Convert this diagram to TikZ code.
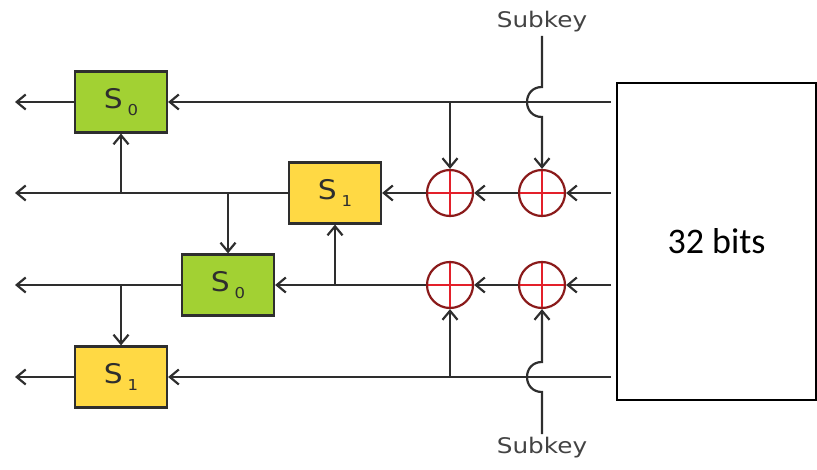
\documentclass[tikz,border=0pt]{standalone}
\usepackage{fontspec}
\usepackage{tikz}
\usetikzlibrary{arrows.meta,positioning,calc}
\newfontfamily\vfont{DejaVu Sans}
\newfontfamily\cfont{Carlito}
\definecolor{ink}{HTML}{2E2E2E}
\definecolor{sgreen}{HTML}{A2D133}
\definecolor{syellow}{HTML}{FFD944}
\definecolor{xring}{HTML}{8A1A1A}
\definecolor{xred}{HTML}{E3202A}
\newcommand{\slab}[1]{\scalebox{1.1}[1]{\fontsize{27}{27}\selectfont S\,\raisebox{-7pt}{\fontsize{15}{15}\selectfont #1}}}
\newcommand{\keylab}{\scalebox{1.15}[1]{\fontsize{21.5}{21.5}\selectfont Subkey}}

\begin{document}
\begin{tikzpicture}[
  x=1pt, y=-1pt,
  every node/.style={align=center},
  sgrn/.style={draw=ink, line width=2.2pt, fill=sgreen, minimum width=92pt,
               minimum height=61pt, inner sep=0pt, font=\vfont, text=ink},
  sylw/.style={sgrn, fill=syellow},
  xr/.style={circle, draw=xring, line width=2.2pt, minimum size=46pt, inner sep=0pt,
             path picture={\draw[xred, line width=2pt]
               (path picture bounding box.north) -- (path picture bounding box.south)
               (path picture bounding box.west) -- (path picture bounding box.east);}},
  key/.style={font=\vfont, text=ink!90},
  arr/.style={-{Straight Barb[length=9pt,width=15pt]}, line width=2.2pt, draw=ink},
]
\useasboundingbox (0,0) rectangle (817,470);
\node[draw=black, line width=2pt, minimum width=199pt, minimum height=317pt, inner sep=0pt,
      font=\cfont\fontsize{36}{36}\selectfont] (blk) at (716.5,241.5) {32 bits};
\node[sgrn] (s0a) at (121,102) {\slab{0}};
\node[sylw] (s1a) at (335,193) {\slab{1}};
\node[sgrn] (s0b) at (228,285) {\slab{0}};
\node[sylw] (s1b) at (121,377) {\slab{1}};
\node[xr] (x21) at (450,193) {};
\node[xr] (x22) at (542,193) {};
\node[xr] (x31) at (450,285) {};
\node[xr] (x32) at (542,285) {};
\node[key] (ktop) at (542,22) {\keylab};
\node[key] (kbot) at (542,448) {\keylab};
\foreach \r/\y in {1/102,2/193,3/285,4/377} {
  \coordinate (in\r) at (611,\y);
  \coordinate (out\r) at (15,\y);
}
% rows
\draw[arr] (in1) -- (s0a);
\draw[arr] (s0a) -- (out1);
\draw[arr] (in2) -- (x22);
\draw[arr] (x22) -- (x21);
\draw[arr] (x21) -- (s1a);
\draw[arr] (s1a) -- (out2);
\draw[arr] (in3) -- (x32);
\draw[arr] (x32) -- (x31);
\draw[arr] (x31) -- (s0b);
\draw[arr] (s0b) -- (out3);
\draw[arr] (in4) -- (s1b);
\draw[arr] (s1b) -- (out4);
% branches
\draw[arr] (x21 |- in1) -- (x21);
\draw[arr] (s0a |- in2) -- (s0a);
\draw[arr] (s0b |- in2) -- (s0b);
\draw[arr] (s1a |- in3) -- (s1a);
\draw[arr] (s1b |- in3) -- (s1b);
\draw[arr] (x31 |- in4) -- (x31);
% subkeys, hopping over the outer rows
\coordinate (hop1) at (x22 |- in1);
\coordinate (hop4) at (x32 |- in4);
\draw[arr] (ktop) -- ([yshift=15pt]hop1)
  .. controls ([shift={(-20pt,15pt)}]hop1) and ([shift={(-20pt,-15pt)}]hop1) .. ([yshift=-15pt]hop1)
  -- (x22);
\draw[arr] (kbot) -- ([yshift=-15pt]hop4)
  .. controls ([shift={(-20pt,-15pt)}]hop4) and ([shift={(-20pt,15pt)}]hop4) .. ([yshift=15pt]hop4)
  -- (x32);
\end{tikzpicture}
\end{document}
